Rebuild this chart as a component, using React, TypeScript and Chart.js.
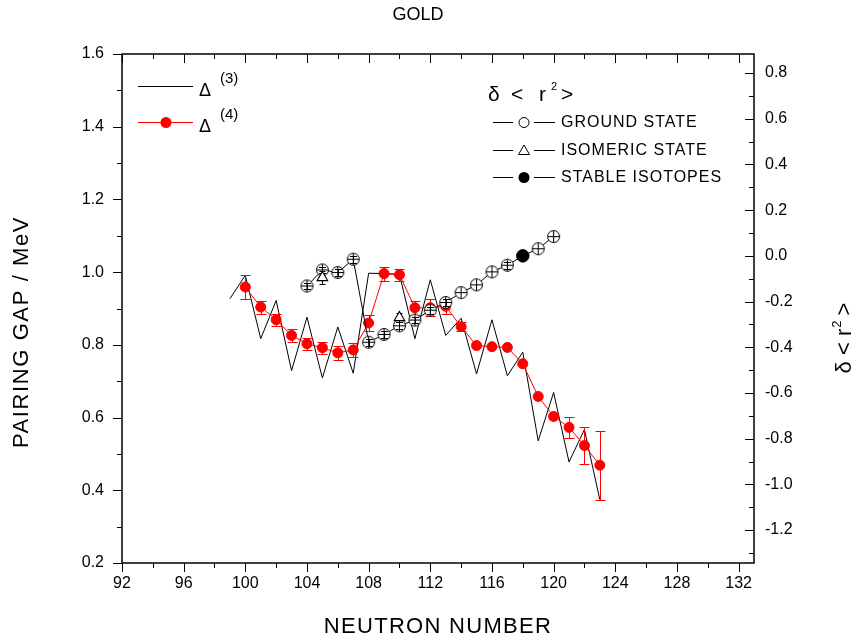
import { useEffect, useRef } from 'react';
import { Chart, registerables } from 'chart.js';

Chart.register(...registerables);

// ---------- data ----------
const neutronD3 = [99, 100, 101, 102, 103, 104, 105, 106, 107, 108, 109, 110, 111, 112, 113, 114, 115, 116, 117, 118, 119, 120, 121, 122, 123];
const delta3 = [0.927, 0.991, 0.817, 0.922, 0.729, 0.876, 0.709, 0.849, 0.722, 0.997, 0.996, 0.994, 0.817, 0.979, 0.826, 0.873, 0.720, 0.869, 0.715, 0.780, 0.536, 0.669, 0.478, 0.567, 0.374];

const neutronD4 = [100, 101, 102, 103, 104, 105, 106, 107, 108, 109, 110, 111, 112, 113, 114, 115, 116, 117, 118, 119, 120, 121, 122, 123];
const delta4 = [0.959, 0.904, 0.869, 0.826, 0.803, 0.792, 0.778, 0.786, 0.860, 0.996, 0.993, 0.902, 0.902, 0.906, 0.850, 0.798, 0.795, 0.793, 0.748, 0.658, 0.603, 0.573, 0.523, 0.469];
const delta4Err = [0.034, 0.018, 0.017, 0.017, 0.017, 0.017, 0.020, 0.019, 0.021, 0.019, 0.017, 0.020, 0.023, 0.022, 0.012, 0, 0, 0, 0, 0, 0, 0.028, 0.050, 0.095];

const neutronGround = [104, 105, 106, 107, 108, 109, 110, 111, 112, 113, 114, 115, 116, 117, 118, 119, 120];
const drGround = [-0.132, -0.062, -0.073, -0.015, -0.378, -0.344, -0.306, -0.281, -0.238, -0.204, -0.161, -0.127, -0.070, -0.041, 0.0, 0.031, 0.084];
const drGroundErr = [0.015, 0.015, 0.015, 0.015, 0.015, 0.015, 0.015, 0.015, 0.015, 0.015, 0, 0, 0, 0.015, 0, 0, 0];

const neutronIsomer = [105, 110];
const drIsomer = [-0.095, -0.270];
const drIsomerErr = [0.03, 0.02];

const neutronStable = [118];
const drStable = [0.0];

const xTicks = [92, 96, 100, 104, 108, 112, 116, 120, 124, 128, 132];
const yLeftTicks = [0.2, 0.4, 0.6, 0.8, 1.0, 1.2, 1.4, 1.6];
const yRightTicks = [-1.2, -1.0, -0.8, -0.6, -0.4, -0.2, 0.0, 0.2, 0.4, 0.6, 0.8];

const FONT = '"Liberation Sans", Arial, Helvetica, sans-serif';

function pts(xs: number[], ys: number[]) {
  return xs.map((x, i) => ({ x, y: ys[i] }));
}

function makeGroundMarker(): HTMLCanvasElement {
  const c = document.createElement('canvas');
  c.width = 15;
  c.height = 15;
  const g = c.getContext('2d')!;
  g.beginPath();
  g.arc(7.5, 7.5, 6, 0, Math.PI * 2);
  g.fillStyle = '#ffffff';
  g.fill();
  g.lineWidth = 1;
  g.strokeStyle = '#000000';
  g.stroke();
  g.beginPath();
  g.moveTo(7.5, 1.5);
  g.lineTo(7.5, 13.5);
  g.moveTo(1.5, 7.5);
  g.lineTo(13.5, 7.5);
  g.stroke();
  return c;
}

function drawErr(ctx: CanvasRenderingContext2D, xs: any, ys: any, nx: number[], vals: number[], errs: number[], color: string, half: number) {
  ctx.save();
  ctx.strokeStyle = color;
  ctx.lineWidth = 1;
  nx.forEach((n, i) => {
    const e = errs[i];
    if (!e) return;
    const x = Math.round(xs.getPixelForValue(n)) + 0.5;
    const y1 = Math.round(ys.getPixelForValue(vals[i] + e)) + 0.5;
    const y2 = Math.round(ys.getPixelForValue(vals[i] - e)) + 0.5;
    ctx.beginPath();
    ctx.moveTo(x, y1);
    ctx.lineTo(x, y2);
    ctx.moveTo(x - half, y1);
    ctx.lineTo(x + half, y1);
    ctx.moveTo(x - half, y2);
    ctx.lineTo(x + half, y2);
    ctx.stroke();
  });
  ctx.restore();
}

const errPlugin = {
  id: 'errbars',
  beforeDatasetDraw(chart: any, args: any) {
    const ds = chart.data.datasets[args.index];
    const ctx = chart.ctx;
    if (ds.label === 'D4') drawErr(ctx, chart.scales.x, chart.scales.y, neutronD4, delta4, delta4Err, '#ff0000', 5);
    if (ds.label === 'ISOMERIC') drawErr(ctx, chart.scales.x, chart.scales.y2, neutronIsomer, drIsomer, drIsomerErr, '#000000', 3);
  },
  afterDatasetDraw(chart: any, args: any) {
    const ds = chart.data.datasets[args.index];
    if (ds.label === 'GROUND') drawErr(chart.ctx, chart.scales.x, chart.scales.y2, neutronGround, drGround, drGroundErr, '#000000', 3.5);
  },
};

function midpoints(a: number[]) {
  const r: number[] = [];
  for (let i = 0; i < a.length - 1; i++) r.push((a[i] + a[i + 1]) / 2);
  return r;
}

const bgPlugin = {
  id: 'bg',
  beforeDraw(chart: any) {
    const ctx = chart.ctx;
    ctx.save();
    ctx.fillStyle = '#ffffff';
    ctx.fillRect(0, 0, chart.width, chart.height);
    ctx.restore();
  },
};

const decorPlugin = {
  id: 'decor',
  afterDraw(chart: any) {
    const ctx: CanvasRenderingContext2D = chart.ctx;
    const { left, right, top, bottom } = chart.chartArea;
    const xs = chart.scales.x;
    const yl = chart.scales.y;
    const yr = chart.scales.y2;
    ctx.save();
    ctx.strokeStyle = '#000';
    ctx.fillStyle = '#000';
    ctx.lineWidth = 1;

    const MAJ = 9;
    const MIN = 5;
    ctx.beginPath();
    const xMinor = midpoints(xTicks);
    const tickX = (v: number, len: number) => {
      const x = Math.round(xs.getPixelForValue(v)) + 0.5;
      ctx.moveTo(x, bottom);
      ctx.lineTo(x, bottom + len);
      ctx.moveTo(x, top);
      ctx.lineTo(x, top + len);
    };
    xTicks.forEach((v) => tickX(v, MAJ));
    xMinor.forEach((v) => tickX(v, MIN));
    const yLMinor = midpoints(yLeftTicks);
    const tickL = (v: number, len: number) => {
      const y = Math.round(yl.getPixelForValue(v)) + 0.5;
      ctx.moveTo(left, y);
      ctx.lineTo(left - len, y);
    };
    yLeftTicks.forEach((v) => tickL(v, MAJ));
    yLMinor.forEach((v) => tickL(v, MIN));
    const yRMinor = midpoints(yRightTicks).concat([yRightTicks[0] - 0.1]);
    const tickR = (v: number, len: number) => {
      const y = Math.round(yr.getPixelForValue(v)) + 0.5;
      ctx.moveTo(right, y);
      ctx.lineTo(right - len, y);
    };
    yRightTicks.forEach((v) => tickR(v, MAJ));
    yRMinor.forEach((v) => tickR(v, MIN));
    ctx.stroke();

    // frame
    ctx.lineWidth = 1.5;
    ctx.strokeRect(left, top, right - left, bottom - top);

    // tick labels
    ctx.font = `16px ${FONT}`;
    ctx.textBaseline = 'middle';
    ctx.textAlign = 'center';
    xTicks.forEach((v) => ctx.fillText(String(v), xs.getPixelForValue(v), bottom + 21));
    ctx.textAlign = 'right';
    yLeftTicks.forEach((v) => ctx.fillText(v.toFixed(1), left - 18, yl.getPixelForValue(v)));
    ctx.textAlign = 'left';
    yRightTicks.forEach((v) => ctx.fillText(v.toFixed(1), right + 11, yr.getPixelForValue(v)));

    // titles
    ctx.textAlign = 'center';
    ctx.font = `18px ${FONT}`;
    ctx.fillText('GOLD', 418, 15);
    ctx.font = `22px ${FONT}`;
    (ctx as any).letterSpacing = '1.3px';
    ctx.fillText('NEUTRON NUMBER', (left + right) / 2, 627);
    ctx.save();
    ctx.translate(22, 332);
    ctx.rotate(-Math.PI / 2);
    (ctx as any).letterSpacing = '1.6px';
    ctx.fillText('PAIRING GAP / MeV', 0, 0);
    ctx.restore();
    (ctx as any).letterSpacing = '0px';

    // right axis title  δ < r² >
    ctx.save();
    ctx.translate(843, 338);
    ctx.rotate(-Math.PI / 2);
    ctx.textAlign = 'left';
    ctx.textBaseline = 'alphabetic';
    const p1 = 'δ < r';
    const p3 = ' >';
    ctx.font = `22px ${FONT}`;
    const w1 = ctx.measureText(p1).width;
    const w3 = ctx.measureText(p3).width;
    ctx.font = `13px ${FONT}`;
    const w2 = ctx.measureText('2').width;
    const total = w1 + w2 + w3;
    const x0 = -total / 2;
    ctx.font = `22px ${FONT}`;
    ctx.fillText(p1, x0, 8);
    ctx.font = `13px ${FONT}`;
    ctx.fillText('2', x0 + w1 + 1, -2);
    ctx.font = `22px ${FONT}`;
    ctx.fillText(p3, x0 + w1 + w2, 8);
    ctx.restore();

    // ---- left legend ----
    ctx.textAlign = 'left';
    ctx.textBaseline = 'alphabetic';
    ctx.lineWidth = 1;
    ctx.strokeStyle = '#000';
    ctx.beginPath();
    ctx.moveTo(138, 86.5);
    ctx.lineTo(193, 86.5);
    ctx.stroke();
    ctx.font = `18px ${FONT}`;
    ctx.fillText('Δ', 199, 96);
    ctx.font = `15px ${FONT}`;
    ctx.fillText('(3)', 220, 83);

    ctx.strokeStyle = '#ff0000';
    ctx.beginPath();
    ctx.moveTo(138, 122.5);
    ctx.lineTo(193, 122.5);
    ctx.stroke();
    ctx.fillStyle = '#ff0000';
    ctx.beginPath();
    ctx.arc(166, 122.5, 5.5, 0, Math.PI * 2);
    ctx.fill();
    ctx.fillStyle = '#000';
    ctx.font = `18px ${FONT}`;
    ctx.fillText('Δ', 199, 132);
    ctx.font = `15px ${FONT}`;
    ctx.fillText('(4)', 220, 119);

    // ---- right legend ----
    ctx.font = `21px ${FONT}`;
    ctx.fillText('δ', 488, 101);
    ctx.fillText('<', 511, 101);
    ctx.fillText('r', 539, 101);
    ctx.fillText('>', 561, 101);
    ctx.font = `11px ${FONT}`;
    ctx.fillText('2', 551, 90);

    ctx.strokeStyle = '#000';
    ctx.lineWidth = 1;
    const rows = [122, 150, 177];
    rows.forEach((y) => {
      ctx.beginPath();
      ctx.moveTo(493, y + 0.5);
      ctx.lineTo(513, y + 0.5);
      ctx.moveTo(534, y + 0.5);
      ctx.lineTo(555, y + 0.5);
      ctx.stroke();
    });
    ctx.beginPath();
    ctx.arc(524, rows[0] + 0.5, 5, 0, Math.PI * 2);
    ctx.fillStyle = '#fff';
    ctx.fill();
    ctx.stroke();
    ctx.beginPath();
    ctx.moveTo(524, rows[1] - 5);
    ctx.lineTo(529.5, rows[1] + 4.5);
    ctx.lineTo(518.5, rows[1] + 4.5);
    ctx.closePath();
    ctx.fill();
    ctx.stroke();
    ctx.fillStyle = '#000';
    ctx.beginPath();
    ctx.arc(524, rows[2] + 0.5, 5.5, 0, Math.PI * 2);
    ctx.fill();

    ctx.font = `16px ${FONT}`;
    ctx.textBaseline = 'middle';
    (ctx as any).letterSpacing = '1px';
    ctx.fillText('GROUND STATE', 561, rows[0] + 0.5);
    ctx.fillText('ISOMERIC STATE', 561, rows[1] + 0.5);
    ctx.fillText('STABLE ISOTOPES', 561, rows[2] + 0.5);
    (ctx as any).letterSpacing = '0px';

    ctx.restore();
  },
};

export default function App() {
  const ref = useRef<HTMLCanvasElement>(null);

  useEffect(() => {
    const canvas = ref.current!;
    const groundMarker = makeGroundMarker();
    const hidden = { display: false };
    const chart = new Chart(canvas, {
      type: 'line',
      data: {
        datasets: [
          {
            label: 'D3',
            data: pts(neutronD3, delta3),
            yAxisID: 'y',
            borderColor: '#000000',
            borderWidth: 1,
            pointRadius: 0,
            tension: 0,
            order: 5,
          },
          {
            label: 'D4',
            data: pts(neutronD4, delta4),
            yAxisID: 'y',
            borderColor: '#ff0000',
            backgroundColor: '#ff0000',
            borderWidth: 1,
            pointRadius: 5,
            pointBorderWidth: 1,
            pointBackgroundColor: '#ff0000',
            pointBorderColor: '#ff0000',
            tension: 0,
            order: 4,
          },
          {
            label: 'GROUND',
            data: pts(neutronGround, drGround),
            yAxisID: 'y2',
            borderColor: '#000000',
            borderWidth: 1,
            pointStyle: groundMarker as any,
            pointRadius: 6,
            tension: 0,
            order: 3,
          },
          {
            label: 'ISOMERIC',
            data: pts(neutronIsomer, drIsomer),
            yAxisID: 'y2',
            showLine: false,
            pointStyle: 'triangle',
            pointRadius: 6,
            pointBorderWidth: 1.2,
            pointBackgroundColor: '#ffffff',
            pointBorderColor: '#000000',
            order: 2,
          },
          {
            label: 'STABLE',
            data: pts(neutronStable, drStable),
            yAxisID: 'y2',
            showLine: false,
            pointStyle: 'circle',
            pointRadius: 6,
            pointBorderWidth: 1,
            pointBackgroundColor: '#000000',
            pointBorderColor: '#000000',
            order: 1,
          },
        ],
      },
      options: {
        animation: false,
        responsive: false,
        devicePixelRatio: 1,
        layout: { padding: { top: 54, left: 0, right: 0, bottom: 0 } },
        plugins: { legend: hidden, tooltip: { enabled: false }, title: hidden },
        events: [],
        scales: {
          x: {
            type: 'linear',
            position: 'bottom',
            min: 92,
            max: 133,
            ticks: { display: false },
            grid: { display: false },
            border: { display: false },
            afterBuildTicks: (s: any) => {
              s.ticks = xTicks.map((v) => ({ value: v }));
            },
            afterFit: (s: any) => {
              s.height = 79;
            },
          },
          y: {
            type: 'linear',
            position: 'left',
            min: 0.2,
            max: 1.6,
            ticks: { display: false },
            grid: { display: false },
            border: { display: false },
            afterBuildTicks: (s: any) => {
              s.ticks = yLeftTicks.map((v) => ({ value: v }));
            },
            afterFit: (s: any) => {
              s.width = 122;
            },
          },
          y2: {
            type: 'linear',
            position: 'right',
            min: -1.344,
            max: 0.883,
            ticks: { display: false },
            grid: { display: false },
            border: { display: false },
            afterBuildTicks: (s: any) => {
              s.ticks = yRightTicks.map((v) => ({ value: v }));
            },
            afterFit: (s: any) => {
              s.width = 99;
            },
          },
        },
      } as any,
      plugins: [bgPlugin, errPlugin, decorPlugin],
    });
    return () => chart.destroy();
  }, []);

  return (
    <div style={{ position: 'absolute', left: 0, top: 0, width: 853, height: 642, background: '#ffffff' }}>
      <canvas ref={ref} width={853} height={642} style={{ display: 'block', width: 853, height: 642 }} />
    </div>
  );
}
